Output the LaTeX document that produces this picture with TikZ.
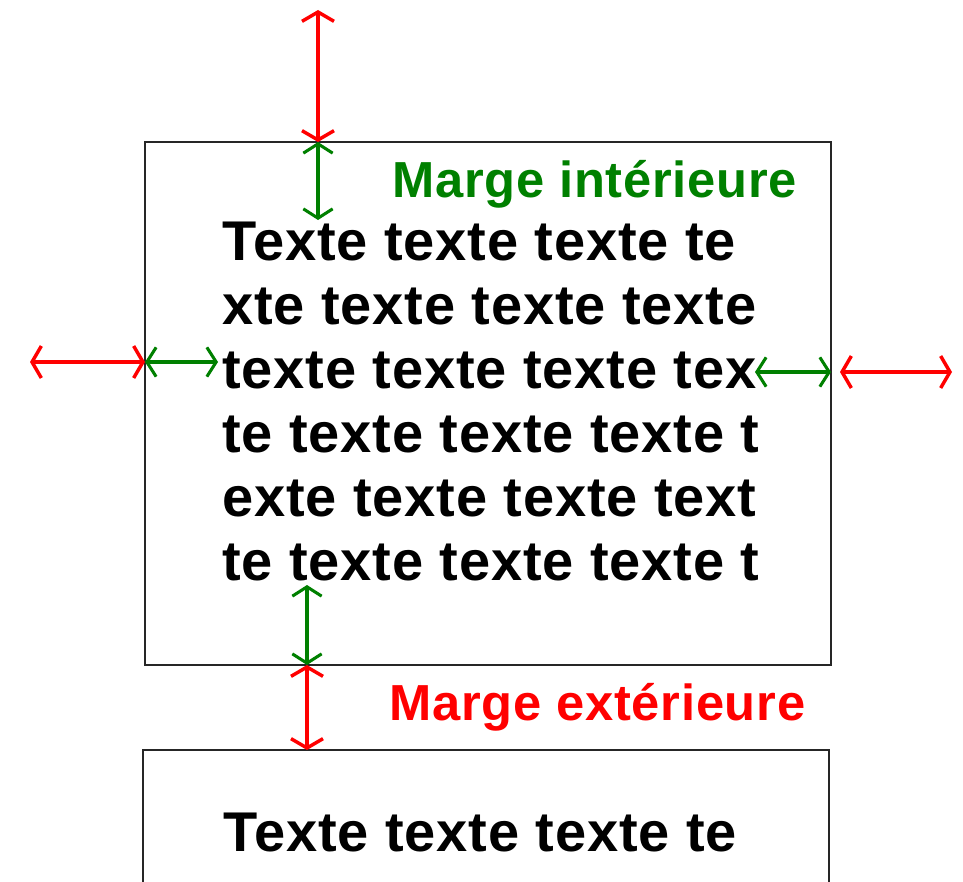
\documentclass[tikz,border=0pt]{standalone}
\usepackage{fontspec}
\setmainfont{Liberation Sans}
\newfontfamily\widesans{Liberation Sans}[LetterSpace=1.5]
\usepackage{xcolor}
\usepackage{tikz}
\usetikzlibrary{arrows.meta}
\definecolor{margegreen}{RGB}{0,128,0}

\begin{document}
\begin{tikzpicture}[x=0.75pt,y=-0.75pt,
    page/.style={draw=black!85,line width=1.1pt},
    txt/.style={anchor=base west,inner sep=0pt,font=\widesans\fontsize{42}{48}\selectfont\bfseries},
    lbl/.style={anchor=base west,inner sep=0pt,font=\widesans\fontsize{38}{44}\selectfont\bfseries},
    outer/.style={red,line width=2.6pt,{Straight Barb[length=7pt,width=24pt]}-{Straight Barb[length=7pt,width=24pt]}},
    inner/.style={margegreen,line width=2.3pt,{Straight Barb[length=7pt,width=22pt]}-{Straight Barb[length=7pt,width=22pt]}}]
  \useasboundingbox (0,0) rectangle (963,881);
  % the two blocks
  \coordinate (p1nw) at (145,142);
  \coordinate (p1se) at (831,665);
  \coordinate (p2nw) at (143,750);
  \coordinate (p2se) at (829,900);
  \draw[page] (p1nw) rectangle (p1se);
  \draw[page] (p2nw) rectangle (p2se);
  % text of the first block
  \foreach \t [count=\i] in {Texte texte texte te,xte texte texte texte,texte texte texte tex,
      te texte texte texte t,exte texte texte text,te texte texte texte t}
    \node[txt] (l\i) at (222,{260+64*(\i-1)}) {\t};
  \node[txt] (l7) at (223,851) {Texte texte texte te};
  \node[lbl,text=margegreen] (inlbl) at (392,197) {Marge intérieure};
  \node[lbl,text=red] (outlbl) at (389,720) {Marge extérieure};
  % margins
  \coordinate (top) at (318,10);
  \coordinate (topin) at (318,220);
  \coordinate (left) at (30,362);
  \coordinate (leftin) at (218,362);
  \coordinate (rightin) at (755,372);
  \coordinate (rightout) at (840,372);
  \coordinate (rightend) at (952,372);
  \coordinate (botin) at (307,585);
  \path (top) edge[outer] (top |- p1nw)
        (top |- p1nw) edge[inner] (topin)
        (left) edge[outer] (p1nw |- left)
        (p1nw |- left) edge[inner] (leftin)
        (rightin) edge[inner] (p1se |- rightin)
        (rightout) edge[outer] (rightend)
        (botin) edge[inner] (botin |- p1se)
        (botin |- p1se) edge[outer] (botin |- p2nw);
\end{tikzpicture}
\end{document}
